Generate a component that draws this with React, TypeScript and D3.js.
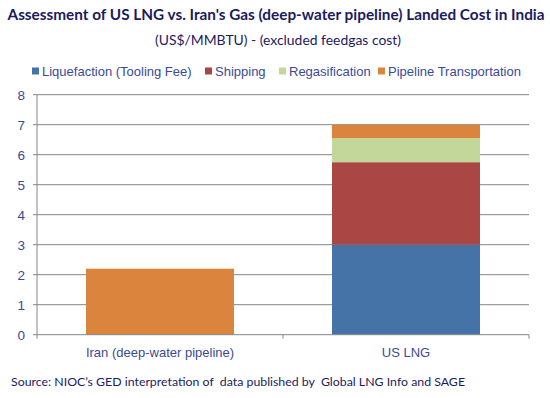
import React from "react";
import * as d3 from "d3";

const categories = ["Iran (deep-water pipeline)", "US LNG"];
const seriesNames = ["Liquefaction (Tooling Fee)", "Shipping", "Regasification", "Pipeline Transportation"];
const seriesColors = ["#4572A7", "#AA4643", "#C4D79B", "#DB843D"];
const liquefaction = [0, 3.0];
const shipping = [0, 2.75];
const regasification = [0, 0.8];
const pipeline = [2.2, 0.45];
const yTicks = [0, 1, 2, 3, 4, 5, 6, 7, 8];

export default function App() {
  const W = 550, H = 398;
  const left = 37, right = 529, top = 94.7, bottom = 334.7;
  const y = d3.scaleLinear().domain([0, 8]).range([bottom, top]);
  const rows = categories.map((c, i) => ({
    cat: c,
    s0: liquefaction[i], s1: shipping[i], s2: regasification[i], s3: pipeline[i],
  }));
  const stack = d3.stack<any>().keys(["s0", "s1", "s2", "s3"])(rows);
  const bw = 148;
  const step = (right - left) / categories.length;
  const textBlue = "#3A4A96";
  const navy = "#1B1B5E";

  const legendX = [32, 205, 279, 378];
  return (
    <svg width={W} height={H} style={{ position: "absolute", left: 0, top: 0 }}>
      <rect width={W} height={H} fill="#fff" />
      <text x={276} y={20} textAnchor="middle" fontFamily="Lato, 'Open Sans', sans-serif" fontWeight="bold" fontSize={14.5} fill={navy} textLength={537} lengthAdjust="spacingAndGlyphs">
        Assessment of US LNG vs. Iran's Gas (deep-water pipeline) Landed Cost in India
      </text>
      <text x={278} y={45} textAnchor="middle" fontFamily="Lato, 'Open Sans', sans-serif" fontSize={13} fill={navy} textLength={246} lengthAdjust="spacingAndGlyphs">
        (US$/MMBTU) - (excluded feedgas cost)
      </text>
      {seriesNames.map((n, i) => (
        <g key={n}>
          <rect x={legendX[i]} y={67.5} width={7} height={7} fill={seriesColors[i]} />
          <text x={legendX[i] + 10} y={76} fontFamily="'Liberation Sans', Arial, sans-serif" fontSize={13} fill={textBlue}>{n}</text>
        </g>
      ))}
      {yTicks.map((t) => (
        <g key={t}>
          {t > 0 && <line x1={left} x2={right} y1={y(t)} y2={y(t)} stroke="#868686" strokeWidth={1} />}
          <line x1={left - 4} x2={left} y1={y(t)} y2={y(t)} stroke="#868686" />
          <text x={25} y={y(t) + 5} textAnchor="end" fontFamily="'Liberation Sans', Arial, sans-serif" fontSize={13.5} fill={textBlue}>{t}</text>
        </g>
      ))}
      {stack.map((layer, si) =>
        layer.map((d, ci) => {
          const cx = left + step * (ci + 0.5);
          const h = y(d[0]) - y(d[1]);
          if (h <= 0) return null;
          return <rect key={si + "-" + ci} x={cx - bw / 2} y={y(d[1])} width={bw} height={h} fill={seriesColors[si]} />;
        })
      )}
      <line x1={left} x2={left} y1={top} y2={bottom} stroke="#868686" />
      <line x1={left} x2={right} y1={bottom} y2={bottom} stroke="#868686" />
      {[0, 1, 2].map((i) => (
        <line key={i} x1={left + step * i} x2={left + step * i} y1={bottom} y2={bottom + 4} stroke="#868686" />
      ))}
      {categories.map((c, i) => (
        <text key={c} x={left + step * (i + 0.5)} y={357} textAnchor="middle" fontFamily="'Liberation Sans', Arial, sans-serif" fontSize={13} fill={textBlue} style={{ whiteSpace: "pre" }}>{c}</text>
      ))}
      <text x={11} y={386} fontFamily="Lato, 'Open Sans', sans-serif" fontSize={12} fill={navy} textLength={454} lengthAdjust="spacingAndGlyphs" style={{ whiteSpace: "pre" }}>
        {"Source: NIOC\u2019s GED interpretation of  data published by  Global LNG Info and SAGE"}
      </text>
    </svg>
  );
}
